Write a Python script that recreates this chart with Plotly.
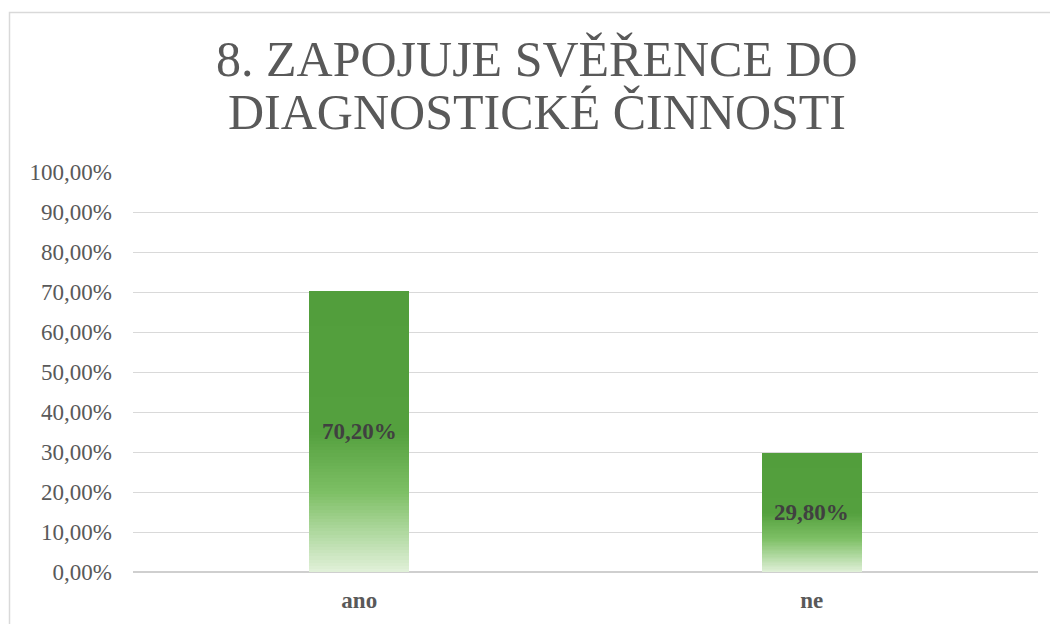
import plotly.graph_objects as go

categories = ["ano", "ne"]
values = [70.20, 29.80]
value_labels = ["70,20%", "29,80%"]
tick_values = [0, 10, 20, 30, 40, 50, 60, 70, 80, 90, 100]
tick_labels = ["0,00%", "10,00%", "20,00%", "30,00%", "40,00%", "50,00%",
               "60,00%", "70,00%", "80,00%", "90,00%", "100,00%"]
title_lines = ["8. ZAPOJUJE SVĚŘENCE DO", "DIAGNOSTICKÉ ČINNOSTI"]

OFF = 8  # page offset of the plot inside the browser window
W, H = 1058, 624
L, R, T, B = 133 - OFF, 20 + OFF, 172 - OFF, 52 + OFF
PW, PH = W - L - R, H - T - B

# gradient stops (fraction of bar height from bottom, rgb)
stops = [(0.0, (226, 241, 218)), (0.28, (126, 192, 102)),
         (0.5, (84, 160, 62)), (1.0, (82, 158, 60))]


def grad_color(t):
    for (t0, c0), (t1, c1) in zip(stops[:-1], stops[1:]):
        if t <= t1:
            f = (t - t0) / (t1 - t0)
            c = [round(a + (b - a) * f) for a, b in zip(c0, c1)]
            return "rgb(%d,%d,%d)" % tuple(c)
    return "rgb(%d,%d,%d)" % stops[-1][1]


N = 90
fig = go.Figure()
for i in range(N):
    t = (i + 0.5) / N
    col = grad_color(t)
    fig.add_trace(go.Bar(
        x=categories, y=[v / N for v in values],
        marker=dict(color=col, line=dict(width=0)),
        width=0.221, hoverinfo="skip", showlegend=False))

font_family = "Liberation Serif"

annotations = []
for c, v, lab in zip(categories, values, value_labels):
    annotations.append(dict(x=c, y=v / 2, text="<b>%s</b>" % lab, showarrow=False,
                            xref="x", yref="y",
                            font=dict(family=font_family, size=23, color="#404040")))

title_x = (537 - OFF - L) / PW
for line, ypx in zip(title_lines, [59, 112]):
    annotations.append(dict(x=title_x, y=(H - B - (ypx - OFF)) / PH, xref="paper", yref="paper",
                            text=line, showarrow=False, xanchor="center", yanchor="middle",
                            font=dict(family=font_family, size=50, color="#595959")))

fig.update_layout(
    width=W, height=H,
    margin=dict(l=L, r=R, t=T, b=B, pad=0),
    barmode="stack",
    bargap=0.5,
    paper_bgcolor="white", plot_bgcolor="white",
    annotations=annotations,
    shapes=[dict(type="rect", xref="paper", yref="paper",
                 x0=(9.5 - OFF - L) / PW, x1=1.2, y0=-0.5, y1=(H - B - (12.5 - OFF)) / PH,
                 line=dict(color="#d9d9d9", width=1.5), fillcolor="rgba(0,0,0,0)",
                 layer="below")],
    xaxis=dict(type="category", showgrid=False, zeroline=False, showline=False,
               ticks="", tickfont=dict(family=font_family, size=23, color="#595959", weight="bold"),
               ticklabelstandoff=12),
    yaxis=dict(range=[0, 100], tickvals=tick_values, ticktext=tick_labels,
               showgrid=True, gridcolor="#d9d9d9", gridwidth=1.2,
               zeroline=True, zerolinecolor="#cfcfcf", zerolinewidth=1.6,
               showline=False, ticks="",
               tickfont=dict(family=font_family, size=23, color="#595959"),
               ticklabelstandoff=20),
)

fig.write_html("out.html")
